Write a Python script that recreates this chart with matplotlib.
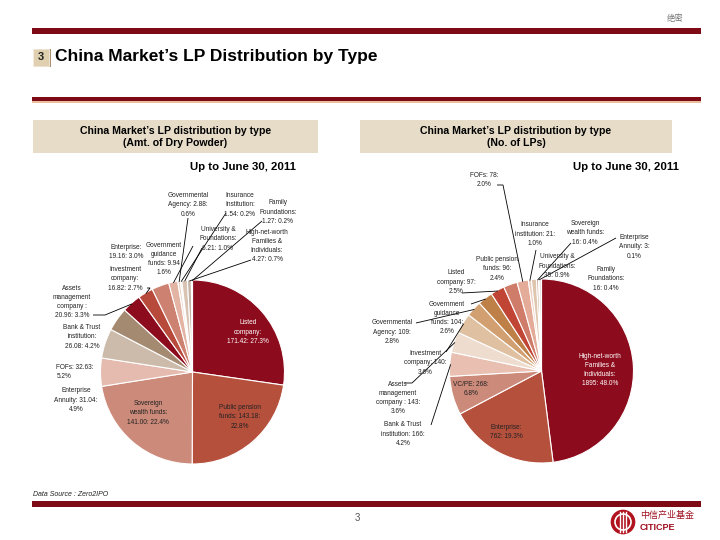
import matplotlib
matplotlib.use('Agg')
import numpy as np
import matplotlib.pyplot as plt
from matplotlib.patches import Rectangle, Circle
from matplotlib import font_manager

_installed = {f.name for f in font_manager.fontManager.ttflist}
NARROW = 'Liberation Sans Narrow' if 'Liberation Sans Narrow' in _installed else 'Liberation Sans'
plt.rcParams['font.family'] = ['Liberation Sans', 'DejaVu Sans']
CJK = ['Noto Sans CJK SC', 'DejaVu Sans']

# ---------------- data ----------------
left_types = ["Listed company", "Public pension funds", "Sovereign wealth funds",
              "Enterprise Annuity", "FOFs", "Bank & Trust institution",
              "Assets management company", "Investment company", "Enterprise",
              "Government guidance funds", "Governmental Agency", "Insurance Institution",
              "University & Foundations", "High-net-worth Families & Individuals",
              "Family Foundations"]
left_values = [171.42, 143.18, 141.00, 31.04, 32.63, 26.08, 20.96, 16.82, 19.16,
               9.94, 2.88, 1.54, 6.21, 4.27, 1.27]
left_pcts = ["27.3%", "22.8%", "22.4%", "4.9%", "5.2%", "4.2%", "3.3%", "2.7%", "3.0%",
             "1.6%", "0.6%", "0.2%", "1.0%", "0.7%", "0.2%"]
left_colors = ["#8C0B1C", "#B5503D", "#CB8A7A", "#E4BBAE", "#CCBBAA", "#A48A70",
               "#8C0B1C", "#B84A3C", "#CD8170", "#E3B3A3", "#ECD6CA", "#DCCBBE",
               "#D9C4B4", "#C2B3A6", "#EEE6E0"]

right_types = ["High-net-worth Families & Individuals", "Enterprise", "VC/PE",
               "Bank & Trust institution", "Assets management company",
               "Investment company", "Governmental Agency", "Government guidance funds",
               "Listed company", "Public pension funds", "FOFs", "Insurance institution",
               "University & Foundations", "Sovereign wealth funds", "Enterprise Annuity",
               "Family Foundations"]
right_values = [1895, 762, 268, 166, 143, 140, 109, 104, 97, 96, 78, 21, 35, 16, 3, 16]
right_pcts = ["48.0%", "19.3%", "6.8%", "4.2%", "3.6%", "3.6%", "2.8%", "2.6%", "2.5%",
              "2.4%", "2.0%", "1.0%", "0.9%", "0.4%", "0.1%", "0.4%"]
right_colors = ["#8C0B1C", "#B5503D", "#CB8A7A", "#E8BFB0", "#EEDDCF", "#DFC0A0",
                "#D2A070", "#BF8048", "#C04535", "#D07C6A", "#E3AB98", "#EDCDBE",
                "#DEC6AE", "#CDB8A6", "#B8A090", "#E8E0E0"]

# label templates: (template, x, y, colour, multialign, leader path)
left_label_spec = [
    ("Listed\ncompany:\n{v}: {p}", 248, 332, "white", "center", None),
    ("Public pension\nfunds: {v}:\n{p}", 240, 417, "#222222", "center", None),
    ("Sovereign\nwealth funds:\n{v}: {p}", 148, 413, "#222222", "center", None),
    ("Enterprise\nAnnuity: {v}:\n{p}", 76, 400, "#222222", "center", None),
    ("FOFs: {v}:\n{p}", 75, 372, "#222222", "left", None),
    ("Bank & Trust\ninstitution:\n{v}: {p}", 82, 337, "#222222", "center", None),
    ("Assets\nmanagement\ncompany :\n{v}: {p}", 72, 302, "#222222", "center", [(93, 315), (105, 315)]),
    ("Investment\ncompany:\n{v}: {p}", 125, 279, "#222222", "center", [(147, 288), (150, 288)]),
    ("Enterprise:\n{v}: {p}", 126, 252, "#222222", "center", None),
    ("Government\nguidance\nfunds: {v}\n{p}", 164, 259, "#222222", "center", [(193, 246)]),
    ("Governmental\nAgency: {v}:\n{p}", 188, 205, "#222222", "center", [(188, 218)]),
    ("Insurance\nInstitution:\n{v}: {p}", 240, 205, "#222222", "center", [(226, 213)]),
    ("University &\nFoundations:\n{v}: {p}", 218, 239, "#222222", "center", [(202, 248)]),
    ("High-net-worth\nFamilies &\nIndividuals:\n{v}: {p}", 267, 246, "#222222", "center", [(251, 260)]),
    ("Family\nFoundations:\n{v}: {p}", 278, 212, "#222222", "center", [(262, 221)]),
]
right_label_spec = [
    ("High-net-worth\nFamilies &\nIndividuals:\n{v}: {p}", 600, 370, "white", "center", None),
    ("Enterprise:\n{v}: {p}", 506, 432, "#222222", "center", None),
    ("VC/PE: {v}:\n{p}", 471, 389, "#222222", "center", None),
    ("Bank & Trust\ninstitution: {v}:\n{p}", 403, 434, "#222222", "center", [(431, 425)]),
    ("Assets\nmanagement\ncompany : {v}:\n{p}", 398, 398, "#222222", "center", [(405, 383), (412, 383)]),
    ("Investment\ncompany: {v}:\n{p}", 425, 363, "#222222", "center", [(446, 352)]),
    ("Governmental\nAgency: {v}:\n{p}", 392, 332, "#222222", "center", [(416, 323)]),
    ("Government\nguidance\nfunds: {v}:\n{p}", 447, 318, "#222222", "center", [(471, 304)]),
    ("Listed\ncompany: {v}:\n{p}", 456, 282, "#222222", "center", [(462, 293)]),
    ("Public pension\nfunds: {v}:\n{p}", 497, 269, "#222222", "center", None),
    ("FOFs: {v}:\n{p}", 484, 180, "#222222", "center", [(497, 185), (503, 185)]),
    ("Insurance\ninstitution: {v}:\n{p}", 535, 234, "#222222", "center", [(536, 250)]),
    ("University &\nFoundations:\n{v}: {p}", 557, 266, "#222222", "center", None),
    ("Sovereign\nwealth funds:\n{v}: {p}", 585, 233, "#222222", "center", [(571, 243)]),
    ("Enterprise\nAnnuity: {v}:\n{p}", 634, 247, "#222222", "center", [(616, 238)]),
    ("Family\nFoundations:\n{v}: {p}", 606, 279, "#222222", "center", None),
]

W, H = 720, 540
DARKRED = "#7E0A16"
BOXC = "#E6DCC8"

fig = plt.figure(figsize=(7.2, 5.4), dpi=100)
ax = fig.add_axes([0, 0, 1, 1])


def Y(y):
    return H - y


def draw_pie(values, colors, cx, cy, r):
    wedges, _ = ax.pie(values, colors=colors, startangle=90, counterclock=False,
                       center=(cx, Y(cy)), radius=r,
                       wedgeprops=dict(edgecolor="white", linewidth=0.8))
    return wedges


def edge_point(w, frac=1.0):
    th = np.deg2rad((w.theta1 + w.theta2) / 2.0)
    cx, cy = w.center
    return cx + w.r * frac * np.cos(th), cy + w.r * frac * np.sin(th)


def draw_labels(wedges, values, pcts, spec, fmt):
    for w, v, p, (tpl, x, y, col, ma, leader) in zip(wedges, values, pcts, spec):
        ax.text(x, Y(y), tpl.format(v=fmt(v), p=p), ha="center", va="center",
                multialignment=ma, fontsize=4.7, color=col, linespacing=1.45)
        if leader:
            ex, ey = edge_point(w, 0.99)
            xs = [pt[0] for pt in leader] + [ex]
            ys = [Y(pt[1]) for pt in leader] + [ey]
            ax.plot(xs, ys, color="black", lw=0.6, solid_capstyle="butt")


lw = draw_pie(left_values, left_colors, 192.5, 372, 92)
draw_labels(lw, left_values, left_pcts, left_label_spec, lambda v: f"{v:.2f}")
rw = draw_pie(right_values, right_colors, 541.5, 371, 92)
draw_labels(rw, right_values, right_pcts, right_label_spec, lambda v: f"{v:d}")

# ---------------- decorations ----------------
ax.text(675, Y(18), "绝密", fontsize=6, color="#777777", ha="center", va="center", family=CJK)
ax.add_patch(Rectangle((32, Y(34)), 669, 6, color=DARKRED, lw=0))
ax.add_patch(Rectangle((34, Y(67)), 17, 18, facecolor="#A89070", lw=0))
ax.add_patch(Rectangle((33, Y(66)), 16, 17, facecolor="#E0D0B0", edgecolor="#F4ECDC", lw=0.6))
ax.text(41, Y(57.5), "3", fontsize=8, fontweight="bold", color="#222222", ha="center", va="center")
ax.text(55, Y(57), "China Market’s LP Distribution by Type", fontsize=12.5,
        fontweight="bold", family=[NARROW, 'DejaVu Sans'], ha="left", va="center", color="black")
ax.add_patch(Rectangle((32, Y(101)), 669, 4, color=DARKRED, lw=0))
ax.add_patch(Rectangle((32, Y(103)), 669, 2, color="#E8C0A0", lw=0))

ax.add_patch(Rectangle((33, Y(153)), 285, 33, color=BOXC, lw=0))
ax.add_patch(Rectangle((360, Y(153)), 312, 33, color=BOXC, lw=0))
ax.text(175.5, Y(136.5), "China Market’s LP distribution by type\n(Amt. of Dry Powder)",
        fontsize=7.6, fontweight="bold", ha="center", va="center", linespacing=1.25)
ax.text(516, Y(136.5), "China Market’s LP distribution by type\n(No. of LPs)",
        fontsize=7.6, fontweight="bold", ha="center", va="center", linespacing=1.25)
ax.text(243, Y(167), "Up to June 30, 2011", fontsize=8.2, fontweight="bold",
        ha="center", va="center")
ax.text(626, Y(167), "Up to June 30, 2011", fontsize=8.2, fontweight="bold",
        ha="center", va="center")

ax.text(33, Y(494), "Data Source : Zero2IPO", fontsize=5, style="italic",
        ha="left", va="center", color="#222222")
ax.add_patch(Rectangle((32, Y(507)), 669, 6, color=DARKRED, lw=0))
ax.text(357, Y(518), "3", fontsize=7, color="#555555", ha="center", va="center")

# logo
ax.add_patch(Circle((623, Y(522)), 11.5, color="#B0121E", lw=0))
ax.add_patch(Circle((623, Y(522)), 8, fill=False, edgecolor="white", lw=1.2))
for dx in (-3, 0, 3):
    ax.plot([623 + dx, 623 + dx], [Y(512), Y(532)], color="white", lw=1.0)
ax.add_patch(Circle((623, Y(522)), 11.5, fill=False, edgecolor="#B0121E", lw=1.2))
ax.text(640, Y(515), "中信产业基金", fontsize=6.5, color="#A01020", ha="left",
        va="center", family=CJK)
ax.text(640, Y(528), "CITICPE", fontsize=6.5, fontweight="bold", color="#A01020",
        ha="left", va="center")

ax.set_xlim(0, W)
ax.set_ylim(0, H)
ax.set_aspect("auto")
ax.axis("off")

fig.savefig("out.png", dpi=100, facecolor="white")
